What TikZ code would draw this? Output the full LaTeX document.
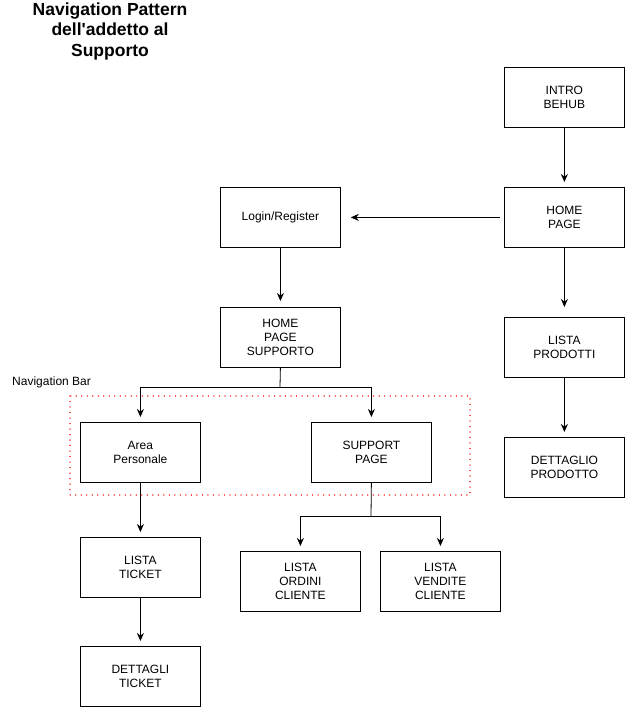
\documentclass[tikz,border=0pt]{standalone}
\usepackage{fontspec}
\setmainfont{Liberation Sans}[Ligatures=TeXOff]
\usetikzlibrary{arrows.meta}
\definecolor{navred}{RGB}{255,51,51}
\begin{document}
\begin{tikzpicture}[x=1pt,y=-1pt,
  page/.style={draw=black,line width=0.8pt,minimum width=120pt,minimum height=60pt,
    inner sep=0pt,align=center,font=\fontsize{12}{14}\selectfont,anchor=north west},
  flow/.style={draw=black,line width=0.8pt,-{Stealth[length=8pt,width=7pt]}},
  link/.style={draw=black,line width=0.8pt}]
\useasboundingbox (0,0) rectangle (625,707);

% title
\node[font=\fontsize{17.5}{20.5}\selectfont\bfseries,align=center] (title) at (110,31)
  {Navigation Pattern\\dell'addetto al\\Supporto};

% navigation bar group
\draw[navred,line width=1.4pt,dash pattern=on 0.01pt off 5.5pt,line cap=round]
  (70,396) rectangle (470,495);
\node[anchor=west,font=\fontsize{12}{14}\selectfont,inner sep=0pt] (navlabel) at (12,382) {Navigation Bar};

% pages
\node[page] (intro) at (504,67) {INTRO\\BEHUB};
\node[page] (home) at (504,187) {HOME\\PAGE};
\node[page] (prodotti) at (504,317) {LISTA\\PRODOTTI};
\node[page] (dettprod) at (504,437) {DETTAGLIO\\PRODOTTO};
\node[page] (login) at (220,187) {Login/Register};
\node[page] (homesup) at (220,307) {HOME\\PAGE\\SUPPORTO};
\node[page] (area) at (80,422) {Area\\Personale};
\node[page] (support) at (311,422) {SUPPORT\\PAGE};
\node[page] (ticket) at (80,537) {LISTA\\TICKET};
\node[page] (dettticket) at (80,646) {DETTAGLI\\TICKET};
\node[page] (ordini) at (240,551) {LISTA\\ORDINI\\CLIENTE};
\node[page] (vendite) at (380,551) {LISTA\\VENDITE\\CLIENTE};

% connectors
\draw[flow,shorten >=5pt] (intro.south) -- (home.north);
\draw[flow,shorten <=4pt,shorten >=10pt] (home.west) -- (login.east);
\draw[flow,shorten >=10pt] (home.south) -- (prodotti.north);
\draw[flow,shorten >=5pt] (prodotti.south) -- (dettprod.north);
\draw[flow,shorten >=6pt] (login.south) -- (homesup.north);
\draw[link] (homesup.south) -- (280,387) coordinate (split1);
\draw[flow,shorten >=5pt] (split1) -| (area.north);
\draw[flow,shorten >=5pt] (split1) -| (support.north);
\draw[flow,shorten >=5pt] (area.south) -- (ticket.north);
\draw[flow,shorten >=5pt] (ticket.south) -- (dettticket.north);
\draw[link] (support.south) -- (371,516) coordinate (split2);
\draw[flow,shorten >=5pt] (split2) -| (ordini.north);
\draw[flow,shorten >=5pt] (split2) -| (vendite.north);
\end{tikzpicture}
\end{document}
